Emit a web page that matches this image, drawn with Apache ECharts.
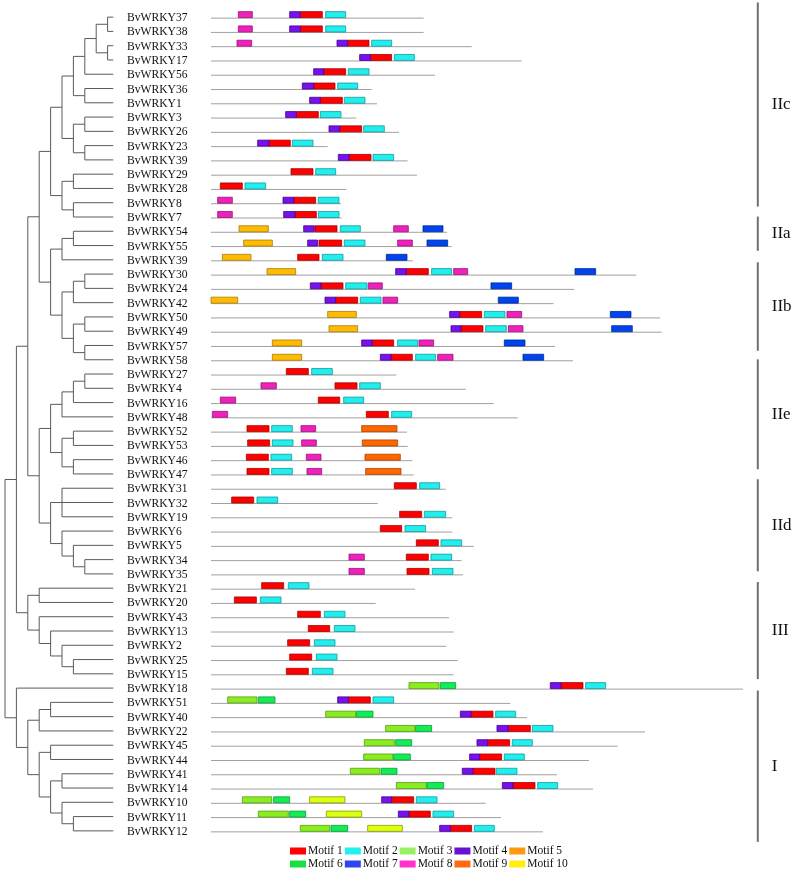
<!DOCTYPE html>
<html>
<head>
<meta charset="utf-8">
<script src="https://cdn.jsdelivr.net/npm/echarts@6/dist/echarts.min.js"></script>
<style>
html,body{margin:0;padding:0;background:#fff;}
#chart{width:795px;height:870px;}
</style>
</head>
<body>
<div id="chart"></div>
<script>
// ---------- DATA ----------
const geneNames = ['BvWRKY37','BvWRKY38','BvWRKY33','BvWRKY17','BvWRKY56','BvWRKY36','BvWRKY1','BvWRKY3','BvWRKY26','BvWRKY23','BvWRKY39','BvWRKY29','BvWRKY28','BvWRKY8','BvWRKY7',
  'BvWRKY54','BvWRKY55','BvWRKY39',
  'BvWRKY30','BvWRKY24','BvWRKY42','BvWRKY50','BvWRKY49','BvWRKY57','BvWRKY58',
  'BvWRKY27','BvWRKY4','BvWRKY16','BvWRKY48','BvWRKY52','BvWRKY53','BvWRKY46','BvWRKY47',
  'BvWRKY31','BvWRKY32','BvWRKY19','BvWRKY6','BvWRKY5','BvWRKY34','BvWRKY35',
  'BvWRKY21','BvWRKY20','BvWRKY43','BvWRKY13','BvWRKY2','BvWRKY25','BvWRKY15',
  'BvWRKY18','BvWRKY51','BvWRKY40','BvWRKY22','BvWRKY45','BvWRKY44','BvWRKY41','BvWRKY14','BvWRKY10','BvWRKY11','BvWRKY12'];

// protein lengths (aa), one per row
const proteinLength = [319,319,391,466,336,241,249,218,282,175,295,309,203,195,196,
  354,361,303,
  638,545,514,674,676,516,543,
  278,382,424,460,294,295,302,304,
  352,250,362,362,394,376,378,
  306,247,357,364,353,370,364,
  798,449,474,651,610,567,519,573,412,435,498];

// motif hits: [row, start, end]
const motif1 = [[0,134,167],[1,134,167],[2,205,237],[3,239,271],[4,169,202],[5,154,186],[6,164,197],[7,128,161],[8,193,226],[9,87,119],[10,207,240],[11,120,153],[12,14,47],[13,124,157],[14,126,158],
  [15,156,189],[16,162,196],[17,130,162],[18,293,326],[19,165,198],[20,187,220],[21,373,406],[22,375,408],[23,242,274],[24,270,302],
  [25,113,146],[26,186,219],[27,161,193],[28,233,266],[29,54,87],[30,55,88],[31,53,86],[32,54,87],
  [33,275,308],[34,31,64],[35,283,316],[36,254,286],[37,308,341],[38,293,326],[39,294,327],
  [40,76,109],[41,35,68],[42,130,164],[43,146,178],[44,115,148],[45,118,151],[46,113,146],
  [47,525,558],[48,206,239],[49,390,423],[50,446,479],[51,415,448],[52,403,436],[53,393,426],[54,453,486],[55,271,304],[56,297,329],[57,359,391]];
const motif2 = [[0,172,202],[1,172,202],[2,241,271],[3,275,305],[4,206,237],[5,190,220],[6,200,231],[7,164,195],[8,229,260],[9,122,153],[10,243,274],[11,157,187],[12,51,82],[13,161,192],[14,161,192],
  [15,194,224],[16,200,231],[17,167,198],[18,331,361],[19,202,234],[20,224,255],[21,410,441],[22,412,443],[23,280,310],[24,307,337],
  [25,151,182],[26,223,254],[27,199,229],[28,271,301],[29,91,122],[30,92,123],[31,90,121],[32,91,122],
  [33,313,343],[34,69,100],[35,320,352],[36,291,322],[37,345,376],[38,330,361],[39,332,363],
  [40,116,147],[41,74,105],[42,170,201],[43,185,216],[44,155,186],[45,158,189],[46,152,183],
  [47,562,592],[48,243,274],[49,427,457],[50,482,513],[51,452,482],[52,440,470],[53,428,459],[54,490,520],[55,308,339],[56,333,364],[57,395,425]];
const motif3 = [[47,297,342],[48,25,69],[49,172,217],[50,262,306],[51,230,275],[52,229,273],[53,209,253],[54,278,323],[55,47,91],[56,71,116],[57,134,178]];
const motif4 = [[0,118,134],[1,118,134],[2,189,205],[3,223,239],[4,154,169],[5,137,154],[6,148,164],[7,112,128],[8,177,193],[9,70,87],[10,191,207],[13,108,124],[14,109,126],
  [15,139,155],[16,145,160],[18,277,293],[19,149,165],[20,171,187],[21,358,373],[22,360,375],[23,226,242],[24,254,270],
  [47,509,525],[48,190,206],[49,374,390],[50,429,446],[51,399,415],[52,388,403],[53,377,393],[54,437,453],[55,256,271],[56,281,297],[57,343,359]];
const motif5 = [[15,42,86],[16,49,92],[17,17,60],[18,84,127],[20,0,40],[21,175,218],[22,177,220],[23,92,136],[24,92,136]];
const motif6 = [[47,344,367],[48,71,96],[49,218,243],[50,307,331],[51,277,301],[52,274,299],[53,255,279],[54,324,349],[55,94,118],[56,118,142],[57,180,205]];
const motif7 = [[15,318,348],[16,324,355],[17,263,294],[18,546,577],[19,420,451],[20,431,461],[21,599,630],[22,601,632],[23,440,471],[24,468,499]];
const motif8 = [[0,41,62],[1,41,62],[2,39,61],[13,10,32],[14,10,32],[15,274,296],[16,280,302],[18,364,385],[19,236,257],[20,258,280],[21,444,466],[22,446,468],[23,312,334],[24,340,363],
  [26,75,98],[27,14,37],[28,2,25],[29,135,157],[30,136,158],[31,143,165],[32,144,166],[38,207,230],[39,207,230]];
const motif9 = [[29,226,279],[30,227,280],[31,231,284],[32,232,285]];
const motif10 = [[55,148,201],[56,173,226],[57,235,287]];

const motifNames = ['Motif 1','Motif 2','Motif 3','Motif 4','Motif 5','Motif 6','Motif 7','Motif 8','Motif 9','Motif 10'];

// tree topology (leaves are row indices)
const treeIIc = [[[[[[0,1],[2,3]],4],[5,6]],[[7,8],[9,10]]],[[11,12],[13,14]]];
const treeIIa = [[15,16],17];
const treeIIb = [[[18,19],20],[[21,22],[23,24]]];
const treeIIe = [[[[25,26],27],28],[[29,30],[31,32]]];
const treeIId = [[33,34,35],[36,[37,[38,39]]]];
const treeIII = [[40,41],[42,[43,[44,[45,46]]]]];
const treeI = [47,[[[48,49],50],[[51,52],[[53,54],[55,[56,57]]]]]];

// subfamily groups: label and row span (from, to)
const groupNames = ['IIc','IIa','IIb','IIe','IId','III','I'];
const groupSpans = [[-1.1,13.2],[13.9,16.3],[17.1,23.3],[23.9,31.6],[32.3,38.75],[39.5,46.3],[47.1,57.7]];

// ---------- STYLES ----------
const FONT = "'Times New Roman','Liberation Serif','DejaVu Serif',serif";
const motifFill = ['#ff0000','#22eeee','#88ee22','#7711ee','#ffbb00','#11ee55','#0044ee','#ee22bb','#ff6600','#ddff11'];
const motifStroke = ['#a80000','#139a9a','#5a9a10','#44008e','#a87a10','#0a9a38','#002a99','#991177','#a84400','#8a9a00'];
const legendFill = ['#ff0000','#22f0f0','#99f066','#6a10d0','#ff9a10','#18e040','#3344ee','#ff33cc','#ff6a10','#ffee10'];
const motifData = [motif1,motif2,motif3,motif4,motif5,motif6,motif7,motif8,motif9,motif10];

// ---------- TREE SEGMENTS ----------
const fullTree = [[[[treeIIc,[treeIIa,treeIIb]],[treeIIe,treeIId]],treeIII],treeI];
const TIP = 9.5;
const treeSegs = [];
function layoutTree(node, depth){
  if (typeof node === 'number') return {y: node, leaf: true};
  const kids = node.map(c => layoutTree(c, depth + 1));
  const y0 = kids[0].y, y1 = kids[kids.length - 1].y;
  treeSegs.push([depth, y0, depth, y1]);
  kids.forEach(k => treeSegs.push([depth, k.y, k.leaf ? TIP : depth + 1, k.y]));
  return {y: (y0 + y1) / 2, leaf: false};
}
layoutTree(fullTree, 0);

// ---------- CHART ----------
const chart = echarts.init(document.getElementById('chart'), null, {renderer: 'canvas'});

const series = [];
series.push({
  type: 'custom', name: 'tree', xAxisIndex: 0, yAxisIndex: 0,
  data: treeSegs, silent: true,
  renderItem: function(params, api){
    const p1 = api.coord([api.value(0), api.value(1)]);
    const p2 = api.coord([api.value(2), api.value(3)]);
    return {type: 'line', shape: {x1: p1[0], y1: p1[1], x2: p2[0], y2: p2[1]},
      style: {stroke: '#5a5a5a', lineWidth: 1}};
  }
});
series.push({
  type: 'custom', name: 'backbone', xAxisIndex: 1, yAxisIndex: 1,
  data: proteinLength.map((len, i) => [i, len]), silent: true, z: 1,
  renderItem: function(params, api){
    const p1 = api.coord([0, api.value(0)]);
    const p2 = api.coord([api.value(1), api.value(0)]);
    return {type: 'line', shape: {x1: p1[0], y1: p1[1], x2: p2[0], y2: p2[1]},
      style: {stroke: '#a0a0a0', lineWidth: 1}};
  }
});
motifData.forEach((arr, k) => {
  series.push({
    type: 'custom', name: motifNames[k], xAxisIndex: 1, yAxisIndex: 1, z: 3,
    itemStyle: {color: legendFill[k], borderWidth: 0},
    data: arr,
    encode: {x: [1, 2], y: 0},
    renderItem: function(params, api){
      const r = api.value(0);
      const a = api.coord([api.value(1), r]);
      const b = api.coord([api.value(2), r]);
      return {type: 'rect', shape: {x: a[0], y: a[1] - 6.5, width: b[0] - a[0], height: 6},
        style: {fill: motifFill[k], stroke: motifStroke[k], lineWidth: 0.8}};
    }
  });
});
series.push({
  type: 'custom', name: 'groups', xAxisIndex: 1, yAxisIndex: 1, silent: true,
  data: groupSpans,
  encode: {y: [0, 1]},
  renderItem: function(params, api){
    const cs = params.coordSys;
    const x = cs.x + cs.width + 13.5;
    const ya = api.coord([0, api.value(0)])[1];
    const yb = api.coord([0, api.value(1)])[1];
    return {type: 'group', children: [
      {type: 'line', shape: {x1: x, y1: ya, x2: x, y2: yb}, style: {stroke: '#707070', lineWidth: 2}},
      {type: 'text', style: {text: groupNames[params.dataIndex], x: x + 14, y: (ya + yb) / 2,
        fill: '#111', fontSize: 17, fontFamily: FONT, align: 'left', verticalAlign: 'middle'}}
    ]};
  }
});

const legendCommon = {
  left: 285, orient: 'horizontal', icon: 'rect', itemWidth: 16, itemHeight: 7, itemGap: 2,
  itemStyle: {borderWidth: 0},
  textStyle: {fontFamily: FONT, fontSize: 11.5, color: '#111', padding: [0, 0, 0, -3]}
};

chart.setOption({
  animation: false,
  backgroundColor: '#fff',
  legend: [
    Object.assign({}, legendCommon, {top: 840, data: motifNames.slice(0, 5)}),
    Object.assign({}, legendCommon, {top: 853, data: motifNames.slice(5)})
  ],
  grid: [
    {left: 5, top: 10, width: 108.3, height: 828},
    {left: 211, top: 11, width: 533.3, height: 828}
  ],
  xAxis: [
    {gridIndex: 0, type: 'value', min: 0, max: TIP, show: false},
    {gridIndex: 1, type: 'value', min: 0, max: 800, show: false}
  ],
  yAxis: [
    {gridIndex: 0, type: 'value', min: -0.5, max: 57.5, inverse: true, show: false},
    {gridIndex: 1, type: 'value', min: -0.5, max: 57.5, inverse: true, show: false},
    {gridIndex: 1, type: 'category', data: geneNames, inverse: true, position: 'left',
      axisLine: {show: false}, axisTick: {show: false}, splitLine: {show: false},
      axisLabel: {interval: 0, align: 'left', margin: 84, fontFamily: FONT, fontSize: 11.6, color: '#111'}}
  ],
  series: series
});
</script>
</body>
</html>
